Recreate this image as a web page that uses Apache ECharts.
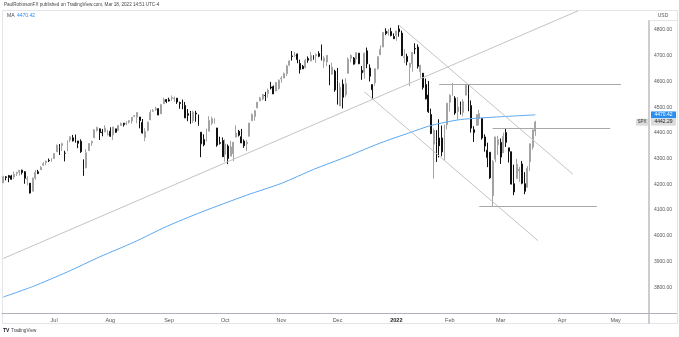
<!DOCTYPE html>
<html><head><meta charset="utf-8">
<script src="https://cdn.jsdelivr.net/npm/echarts@6/dist/echarts.min.js"></script>
<style>html,body{margin:0;padding:0;background:#fff}#c{width:679px;height:337px}</style>
</head><body><div id="c"></div>
<script>
// ---- Data (SPX daily, 2021-06-04 .. 2022-03-18) ----
const opens = [4206.05,4229.34,4233.81,4232.99,4228.56,4242.90,4248.31,4255.28,4248.87,4220.37,4204.78,4173.40,4224.61,4249.27,4256.97,4274.45,4284.90,4293.21,4290.65,
4300.73,4326.60,4356.46,4351.01,4321.07,4329.38,4372.41,4381.07,4380.11,4369.02,4367.43,4296.40,4265.11,4331.13,4361.27,4381.20,4409.58,4416.38,4402.95,4403.59,4395.12,
4406.86,4392.74,4415.95,4408.86,4429.07,4437.77,4435.79,4442.18,4446.08,4464.84,4461.65,4462.12,4440.94,4382.44,4410.56,4450.29,4484.40,4490.45,4493.75,4474.10,4513.76,4529.75,
4528.80,4534.48,4532.42,4535.38,4518.09,4513.02,4506.92,4474.81,4479.33,4447.49,4477.09,4469.74,4402.95,4374.45,4367.43,4406.75,4438.04,4442.12,4419.54,4362.41,4370.67,
4317.16,4348.84,4309.87,4319.57,4383.73,4406.51,4385.44,4368.31,4358.01,4386.75,4447.69,4463.72,4497.34,4524.42,4532.24,4546.12,4553.69,4578.69,4580.22,4562.84,4572.87,
4610.62,4613.34,4630.65,4662.93,4699.26,4701.48,4707.25,4670.26,4659.39,4655.24,4689.30,4679.42,4701.50,4700.72,4708.44,4712.00,4678.48,4675.78,4664.63,4628.75,4640.25,
4602.82,4504.73,4589.49,4548.37,4631.97,4690.86,4691.00,4687.64,4710.30,4642.99,4636.46,4719.13,4652.50,4587.90,4594.96,4650.36,4703.96,4733.99,4795.49,4788.64,4794.23,4775.21,
4778.14,4804.51,4787.99,4693.39,4697.66,4655.34,4669.14,4728.59,4733.56,4637.99,4632.24,4588.03,4547.35,4471.38,4356.32,4366.64,4380.58,4380.58,4336.19,4431.79,
4519.57,4566.39,4535.41,4482.79,4505.75,4480.02,4547.00,4553.24,4506.27,4412.61,4429.28,4455.75,4456.06,4384.57,4332.74,4324.93,4155.77,4298.38,4354.17,
4363.14,4322.56,4401.31,4342.12,4327.01,4202.66,4223.10,4252.55,4279.50,4202.75,4188.82,4288.14,4345.11,4407.34];
const highs = [4233.45,4232.34,4236.74,4237.09,4249.74,4248.38,4255.59,4257.16,4251.89,4232.29,4204.78,4226.24,4255.84,4256.60,4271.28,4286.12,4292.14,4300.52,4302.43,
4320.66,4355.43,4356.46,4361.88,4330.88,4371.60,4386.68,4392.37,4393.68,4369.02,4375.09,4296.40,4336.84,4359.70,4369.87,4415.18,4422.73,4416.38,4415.47,4429.97,4412.25,
4422.18,4423.79,4416.17,4429.76,4440.82,4439.39,4445.21,4449.44,4461.77,4468.37,4480.26,4462.12,4454.32,4418.61,4444.35,4489.88,4492.81,4501.71,4495.90,4513.33,4537.36,4531.39,
4537.11,4545.85,4541.45,4535.38,4521.79,4529.90,4520.47,4492.99,4485.68,4486.87,4485.87,4471.52,4402.95,4394.87,4416.75,4465.40,4463.12,4457.30,4419.54,4385.57,4382.55,
4375.19,4355.51,4369.23,4365.57,4429.97,4412.02,4415.88,4374.89,4372.87,4439.73,4475.82,4488.75,4520.40,4540.87,4551.44,4559.67,4572.62,4598.53,4584.57,4597.55,4608.08,
4620.34,4635.15,4663.46,4683.00,4718.50,4714.92,4708.53,4684.85,4664.55,4688.47,4697.42,4714.95,4701.50,4708.80,4717.75,4743.83,4699.39,4702.87,4664.63,4672.95,4646.02,
4652.94,4595.46,4608.03,4612.60,4694.04,4705.06,4695.26,4713.57,4710.30,4660.47,4712.60,4731.99,4666.70,4587.90,4651.14,4697.67,4740.74,4791.49,4807.02,4804.06,4808.93,4786.83,
4796.64,4818.62,4797.70,4725.01,4707.95,4673.02,4714.13,4748.83,4744.13,4665.13,4632.24,4611.55,4602.11,4494.52,4417.35,4411.01,4453.23,4428.74,4432.72,4516.89,
4550.49,4595.31,4542.88,4539.66,4521.86,4531.32,4590.03,4588.92,4526.33,4426.22,4472.77,4489.55,4456.06,4394.60,4362.12,4325.08,4294.73,4385.34,4388.84,
4378.45,4401.48,4416.78,4342.12,4327.01,4276.94,4299.40,4268.28,4291.01,4247.57,4271.05,4358.90,4412.67,4447.00];
const lows = [4206.05,4215.66,4208.41,4218.74,4220.34,4232.25,4234.07,4238.35,4202.45,4196.05,4164.40,4173.40,4217.27,4241.43,4256.97,4271.16,4274.67,4287.04,4287.96,
4300.73,4326.60,4314.37,4329.79,4289.37,4329.38,4364.03,4366.92,4362.36,4340.70,4322.53,4233.13,4262.05,4331.13,4350.06,4381.20,4405.45,4372.51,4387.01,4403.59,4389.65,
4384.81,4373.00,4400.23,4408.86,4429.07,4424.74,4430.03,4436.42,4435.96,4460.82,4437.66,4417.83,4397.59,4367.73,4406.80,4450.29,4482.28,4485.66,4468.99,4474.10,4513.76,4515.80,
4522.02,4524.66,4521.30,4513.00,4493.95,4492.07,4457.66,4445.70,4435.46,4438.37,4443.80,4427.76,4305.91,4347.96,4367.43,4406.75,4430.27,4436.19,4346.33,4355.08,4306.24,
4288.52,4278.94,4309.87,4290.49,4383.73,4386.22,4360.59,4342.09,4329.92,4386.75,4447.69,4447.47,4496.41,4524.40,4526.89,4524.00,4537.36,4569.17,4551.66,4562.84,4567.59,
4595.06,4613.34,4621.19,4662.59,4681.32,4694.39,4670.87,4630.86,4648.31,4650.77,4672.86,4679.42,4684.41,4672.78,4694.22,4682.17,4652.66,4659.89,4585.43,4625.26,4560.00,
4510.27,4504.73,4495.12,4540.51,4631.97,4674.52,4665.98,4670.24,4667.60,4606.52,4611.22,4651.89,4600.22,4531.10,4583.16,4645.53,4703.96,4733.99,4780.04,4778.08,4775.33,4765.75,
4758.17,4774.27,4699.44,4671.26,4662.74,4582.24,4638.27,4706.71,4650.29,4614.75,4568.70,4530.20,4477.95,4395.34,4222.62,4287.11,4304.80,4309.50,4292.46,4414.02,
4483.53,4544.32,4470.39,4451.50,4471.47,4465.40,4547.00,4484.31,4401.41,4364.84,4429.28,4429.68,4373.81,4327.22,4267.11,4221.51,4114.65,4286.83,4315.12,
4279.54,4322.56,4345.56,4284.98,4199.85,4157.87,4223.10,4209.80,4200.49,4161.72,4187.90,4251.99,4335.65,4389.00];
const closes = [4229.89,4226.52,4227.26,4219.55,4239.18,4247.44,4255.15,4246.59,4223.70,4221.86,4166.45,4224.79,4246.44,4241.84,4266.49,4280.70,4290.61,4291.80,4297.50,
4319.94,4352.34,4343.54,4358.13,4320.82,4369.55,4384.63,4369.21,4374.30,4360.03,4327.16,4258.49,4323.06,4358.69,4367.48,4411.79,4422.30,4401.46,4400.64,4419.15,4395.26,
4387.16,4423.15,4402.66,4429.10,4436.52,4432.35,4436.75,4447.70,4460.83,4468.00,4479.71,4448.08,4400.27,4405.80,4441.67,4479.53,4486.23,4496.19,4470.00,4509.37,4528.79,4522.68,
4524.09,4536.95,4535.43,4520.03,4514.07,4493.28,4458.58,4468.73,4443.05,4480.70,4473.75,4432.99,4357.73,4354.19,4395.64,4448.98,4455.48,4443.11,4352.63,4359.46,4307.54,
4357.04,4300.46,4345.72,4363.55,4399.76,4391.34,4361.19,4350.65,4363.80,4438.26,4471.37,4486.46,4519.63,4536.19,4549.78,4544.90,4566.48,4574.79,4551.68,4596.42,4605.38,
4613.67,4630.65,4660.57,4680.06,4697.53,4701.70,4685.25,4646.71,4649.27,4682.85,4682.80,4700.90,4688.67,4704.54,4697.96,4682.94,4690.70,4701.46,4594.62,4655.27,4567.00,
4513.04,4577.10,4538.43,4591.67,4686.75,4701.21,4667.45,4712.02,4668.97,4634.09,4709.85,4668.67,4620.64,4568.02,4649.23,4696.56,4725.79,4791.19,4786.35,4793.06,4778.73,4766.18,
4796.56,4793.54,4700.58,4696.05,4677.03,4670.29,4713.07,4726.35,4659.03,4662.85,4577.11,4532.76,4482.73,4397.94,4410.13,4356.45,4349.93,4326.51,4431.85,4515.55,
4546.54,4589.38,4477.44,4500.53,4483.87,4521.54,4587.18,4504.08,4418.64,4401.67,4471.07,4475.01,4380.26,4348.87,4304.76,4225.50,4288.70,4384.65,4373.94,
4306.26,4386.54,4363.49,4328.87,4201.09,4170.70,4277.88,4259.52,4204.31,4173.11,4262.45,4357.86,4411.67,4442.29];

// 200-day moving average, read at sample bars (bar index -> value)
const maIndex = [0, 11, 24, 36, 49, 61, 74, 91, 104, 116, 129, 141, 152, 160, 171, 186, 199];
const maValues = [3762, 3803, 3860, 3918, 3976, 4036, 4092, 4158, 4204, 4258, 4310, 4361, 4401, 4429, 4452, 4463, 4470.42];
const maLast = 4470.42;
const lastPrice = 4442.29;

// Drawn trend lines: [barA, valueA, barB, valueB]
const trendLines = [[0, 3912, 215, 4875], [148, 4819, 213, 4240], [135, 4560, 200, 3981]];
// Horizontal levels: [barStart, barEnd, value]
const levels = [[163, 231, 4590], [183, 227, 4419], [178, 222, 4116]];

const holidays = ['2021-07-05','2021-09-06','2021-11-25','2021-12-24','2022-01-17','2022-02-21','2022-04-15'];
const monthNames = ['Jan','Feb','Mar','Apr','May','Jun','Jul','Aug','Sep','Oct','Nov','Dec'];
const yTickMin = 3800, yTickMax = 4800;
const TOTAL_BARS = 242;

// ---- build categories (trading days, incl. empty future space) ----
const dates = [];
(function(){
  let t = Date.UTC(2021, 5, 4);
  while (dates.length < TOTAL_BARS) {
    const d = new Date(t);
    const wd = d.getUTCDay();
    const s = d.toISOString().slice(0, 10);
    if (wd !== 0 && wd !== 6 && holidays.indexOf(s) < 0) dates.push(s);
    t += 86400000;
  }
})();

const candles = closes.map((c, i) => [opens[i], c, lows[i], highs[i]]);
const maData = dates.map(() => null);
maIndex.forEach((k, j) => { maData[k] = maValues[j]; });

const FONT = '"Liberation Sans", Arial, sans-serif';
const chart = echarts.init(document.getElementById('c'));

const markLineData = trendLines.map(t => [{coord: [t[0], t[1]]}, {coord: [t[2], t[3]]}])
  .concat(levels.map(l => [{coord: [l[0], l[2]], lineStyle: {color: '#a8a8a8'}}, {coord: [l[1], l[2]]}]));

chart.setOption({
  animation: false,
  backgroundColor: '#fff',
  grid: {left: 2, right: 30, top: 10, bottom: 24, containLabel: false},
  xAxis: {
    type: 'category', data: dates, boundaryGap: true,
    axisLine: {show: true, lineStyle: {color: '#b0b3ba', width: 1}},
    axisTick: {show: false},
    splitLine: {show: false},
    axisLabel: {
      fontFamily: FONT, fontSize: 5.5, color: '#555', margin: 4,
      interval: (i, v) => i > 0 && v.slice(0, 7) !== dates[i - 1].slice(0, 7),
      formatter: v => { const m = +v.slice(5, 7) - 1; return m === 0 ? '{y|' + v.slice(0, 4) + '}' : monthNames[m]; },
      rich: {y: {fontFamily: FONT, fontSize: 5.5, color: '#222', fontWeight: 'bold'}}
    }
  },
  yAxis: {
    type: 'value', position: 'right', min: 3700, max: 4878, interval: 100, scale: true,
    axisLine: {show: false}, axisTick: {show: false}, splitLine: {show: false},
    axisLabel: {
      fontFamily: FONT, fontSize: 5, color: '#555', margin: 5,
      formatter: v => (v % 100 === 0 && v >= yTickMin && v <= yTickMax) ? v.toFixed(2) : ''
    }
  },
  series: [
    {
      type: 'candlestick', data: candles, barWidth: 1.4,
      itemStyle: {color: '#a3a3a3', color0: '#111', borderColor: '#a3a3a3', borderColor0: '#111', borderWidth: 1},
      markLine: {
        silent: true, symbol: ['none', 'none'], label: {show: false},
        lineStyle: {color: '#c4c4c4', width: 1, type: 'solid'},
        emphasis: {disabled: true},
        data: markLineData
      }
    },
    {
      type: 'line', data: maData, connectNulls: true, smooth: 0.25, showSymbol: false,
      lineStyle: {color: '#5aa8f0', width: 1}, silent: true, z: 3
    }
  ]
});

const yMa = chart.convertToPixel({yAxisIndex: 0}, maLast);
const yLast = chart.convertToPixel({yAxisIndex: 0}, lastPrice);
const axX = 649;
chart.setOption({
  graphic: [
    // frame
    {type: 'rect', shape: {x: 2.5, y: 10.5, width: 675, height: 313}, style: {fill: 'none', stroke: '#e3e5ea', lineWidth: 1}, silent: true},
    {type: 'line', shape: {x1: axX, y1: 20, x2: axX, y2: 323.5}, style: {stroke: '#a9acb3', lineWidth: 1.2}, silent: true},
    {type: 'line', shape: {x1: axX, y1: 20.5, x2: 677, y2: 20.5}, style: {stroke: '#e3e5ea', lineWidth: 1}, silent: true},
    {type: 'line', shape: {x1: axX, y1: 313.5, x2: 677, y2: 313.5}, style: {stroke: '#b0b3ba', lineWidth: 1}, silent: true},
    {type: 'text', x: 663, y: 15.5, style: {text: 'USD', fontFamily: FONT, fontSize: 5, fill: '#555', align: 'center', verticalAlign: 'middle'}},
    // header
    {type: 'text', x: 4, y: 5, style: {text: 'PaulRobinsonFX published on TradingView.com, Mar 18, 2022 14:51 UTC-4', fontFamily: FONT, fontSize: 4.6, fill: '#444', verticalAlign: 'middle'}},
    {type: 'text', x: 7, y: 16, style: {text: 'MA', fontFamily: FONT, fontSize: 5, fill: '#444', verticalAlign: 'middle'}},
    {type: 'text', x: 17, y: 16, style: {text: maLast.toFixed(2), fontFamily: FONT, fontSize: 5, fill: '#2a8ef0', verticalAlign: 'middle'}},
    // price tags
    {type: 'rect', shape: {x: 651, y: yMa - 3.4, width: 25, height: 6.8}, style: {fill: '#2a8ef0'}, silent: true},
    {type: 'text', x: 663.5, y: yMa, style: {text: maLast.toFixed(2), fontFamily: FONT, fontSize: 5, fill: '#fff', align: 'center', verticalAlign: 'middle'}},
    {type: 'rect', shape: {x: 651, y: yLast - 3.4, width: 25, height: 7}, style: {fill: '#dcdcdc'}, silent: true},
    {type: 'text', x: 663.5, y: yLast, style: {text: lastPrice.toFixed(2), fontFamily: FONT, fontSize: 5, fill: '#222', align: 'center', verticalAlign: 'middle'}},
    {type: 'rect', shape: {x: 636, y: yLast - 3.4, width: 12, height: 7}, style: {fill: '#dcdcdc'}, silent: true},
    {type: 'text', x: 642, y: yLast, style: {text: 'SPX', fontFamily: FONT, fontSize: 4.6, fill: '#333', align: 'center', verticalAlign: 'middle'}},
    // logo
    {type: 'text', x: 3, y: 331, style: {text: 'TV', fontFamily: FONT, fontSize: 5, fontWeight: 'bold', fill: '#131722', verticalAlign: 'middle'}},
    {type: 'text', x: 11, y: 331, style: {text: 'TradingView', fontFamily: FONT, fontSize: 4.6, fill: '#444', verticalAlign: 'middle'}}
  ]
});
</script></body></html>
